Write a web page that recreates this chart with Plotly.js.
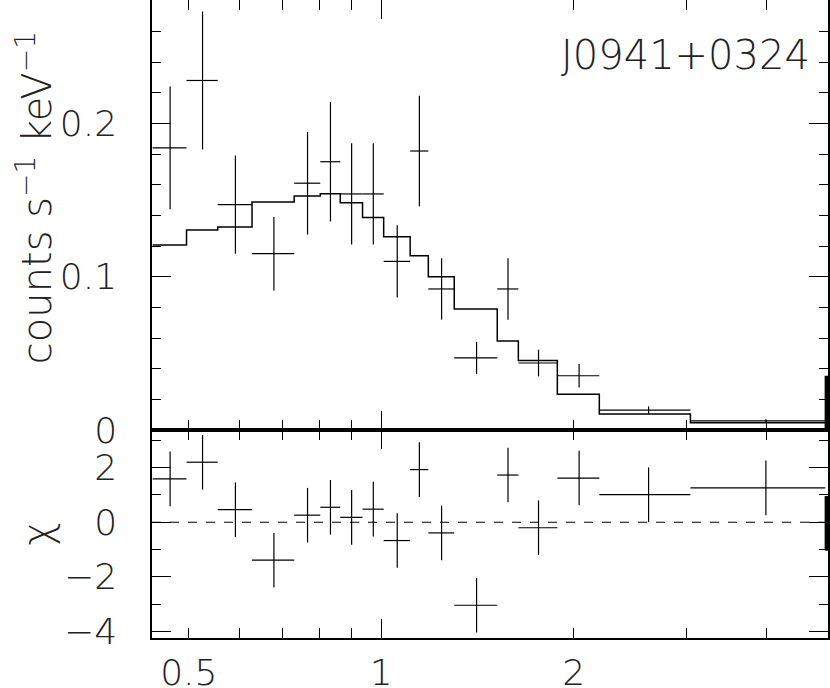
<!DOCTYPE html>
<html>
<head>
<meta charset="utf-8">
<script src="https://cdn.plot.ly/plotly-3.0.1.min.js"></script>
<style>
html, body { margin: 0; padding: 0; background: #fff; }
#plot { width: 830px; height: 688px; }
</style>
</head>
<body>
<div id="plot"></div>
<script>
// channel edges in keV
const binEdges = [0.439, 0.496, 0.555, 0.628, 0.731, 0.803, 0.863, 0.935, 1.009, 1.110,
                  1.185, 1.301, 1.519, 1.639, 1.886, 2.194, 3.046, 4.950];
// counts s^-1 keV^-1
const rate = [0.184, 0.228, 0.147, 0.115, 0.161, 0.175, 0.154, 0.154, 0.110,
              0.182, 0.092, 0.047, 0.092, 0.0437, 0.0354, 0.0130, 0.0059];
const rateErr = [0.040, 0.045, 0.032, 0.024, 0.0335, 0.039, 0.033, 0.033, 0.0235,
                 0.036, 0.020, 0.0105, 0.020, 0.0087, 0.0077, 0.0024, 0.0012];
const model = [0.1207, 0.1305, 0.1324, 0.1487, 0.1526, 0.1541, 0.1483, 0.1387, 0.1261,
               0.1137, 0.1000, 0.0789, 0.0581, 0.0454, 0.0233, 0.0104, 0.0048];
// residuals in sigma
const chi = [1.59, 2.20, 0.46, -1.39, 0.26, 0.55, 0.18, 0.48, -0.67,
             1.93, -0.39, -3.04, 1.73, -0.20, 1.62, 1.01, 1.26];

// last channel, sitting on the right frame
const edgeEnergy = [4.975];
const edgeRate = [0.004];
const edgeRateErr = [0.0314];
const edgeChi = [-0.04];

const xTickVals = [0.5, 1, 2];
const xTickText = ['0.5', '1', '2'];
const xMinorVals = [0.6, 0.7, 0.8, 0.9, 3, 4];
const xLongVals = [1];
const rateTicks = [0, 0.1, 0.2];
const rateTickText = ['0', '0.1', '0.2'];
const chiTicks = [-4, -2, 0, 2];
const chiTickText = ['\u22124', '\u22122', '0', '2'];

const xRange = [Math.log10(0.438), Math.log10(5.0)];

let centers = [];
let halfWidth = [];
for (let i = 0; i < binEdges.length - 1; i++) {
    centers.push((binEdges[i] + binEdges[i + 1]) / 2);
    halfWidth.push((binEdges[i + 1] - binEdges[i]) / 2);
}

const ink = '#000';
const labelFont = {family: 'DejaVu Sans, Liberation Sans, sans-serif', size: 36, color: '#222', weight: 200};
const titleFont = {family: 'DejaVu Sans, Liberation Sans, sans-serif', size: 40, color: '#222', weight: 200};
const hidden = {size: 1, color: 'rgba(0,0,0,0)'};

const dataTrace = {
    x: centers, y: rate, xaxis: 'x2', yaxis: 'y',
    type: 'scatter', mode: 'markers', marker: hidden,
    error_x: {type: 'data', array: halfWidth, width: 0, thickness: 1.2, color: ink},
    error_y: {type: 'data', array: rateErr, width: 0, thickness: 1.2, color: ink},
    hoverinfo: 'x+y'
};

const modelTrace = {
    x: binEdges, y: model.concat([model[model.length - 1]]), xaxis: 'x2', yaxis: 'y',
    type: 'scatter', mode: 'lines', line: {shape: 'hv', color: ink, width: 1.5},
    hoverinfo: 'skip'
};

const edgeTrace = {
    x: edgeEnergy, y: edgeRate, xaxis: 'x2', yaxis: 'y',
    type: 'scatter', mode: 'markers', marker: hidden,
    error_y: {type: 'data', array: edgeRateErr, width: 0, thickness: 4, color: ink},
    hoverinfo: 'skip'
};

const chiTrace = {
    x: centers, y: chi, xaxis: 'x', yaxis: 'y2',
    type: 'scatter', mode: 'markers', marker: hidden,
    error_x: {type: 'data', array: halfWidth, width: 0, thickness: 1.2, color: ink},
    error_y: {type: 'constant', value: 1, width: 0, thickness: 1.2, color: ink},
    hoverinfo: 'x+y'
};

const edgeChiTrace = {
    x: edgeEnergy, y: edgeChi, xaxis: 'x', yaxis: 'y2',
    type: 'scatter', mode: 'markers', marker: hidden,
    error_y: {type: 'constant', value: 1, width: 0, thickness: 4, color: ink},
    hoverinfo: 'skip'
};

// empty traces so the overlay axes (long tick at 1 keV) get drawn
const overlayBottom = {x: [], y: [], xaxis: 'x3', yaxis: 'y2', type: 'scatter', hoverinfo: 'skip'};
const overlayTop = {x: [], y: [], xaxis: 'x4', yaxis: 'y', type: 'scatter', hoverinfo: 'skip'};

const splitAt = 0.326;

function energyAxis(anchor, labels) {
    return {
        anchor: anchor, type: 'log', range: xRange, domain: [0, 1],
        tickvals: xTickVals, ticktext: xTickText, showticklabels: labels,
        ticks: 'inside', ticklen: 10, tickwidth: 1, tickcolor: ink,
        minor: {tickvals: xMinorVals, ticks: 'inside', ticklen: 10, tickwidth: 1, tickcolor: ink, showgrid: false},
        showline: true, linewidth: 1.5, linecolor: ink, mirror: 'ticks',
        showgrid: false, zeroline: false, tickfont: labelFont, ticklabelstandoff: 2,
        fixedrange: true
    };
}

function longTickAxis(overlay, anchor) {
    return {
        overlaying: overlay, anchor: anchor, type: 'log', range: xRange,
        tickvals: xLongVals, ticks: 'inside', ticklen: 19, tickwidth: 1, tickcolor: ink,
        showticklabels: false, showline: false, mirror: 'ticks',
        showgrid: false, zeroline: false, fixedrange: true
    };
}

const layout = {
    width: 830, height: 688,
    margin: {l: 152, r: 2, t: 0, b: 50},
    paper_bgcolor: '#fff', plot_bgcolor: '#fff',
    showlegend: false,
    xaxis: energyAxis('y2', true),
    xaxis2: energyAxis('y', false),
    xaxis3: longTickAxis('x', 'y2'),
    xaxis4: longTickAxis('x2', 'y'),
    yaxis: {
        anchor: 'x2', domain: [splitAt, 1], range: [0, 0.2805],
        tickvals: rateTicks, ticktext: rateTickText,
        ticks: 'inside', ticklen: 19, tickwidth: 1, tickcolor: ink,
        minor: {dtick: 0.02, tick0: 0, ticks: 'inside', ticklen: 9, tickwidth: 1, tickcolor: ink, showgrid: false},
        showline: true, linewidth: 1.5, linecolor: ink, mirror: 'ticks',
        showgrid: false, zeroline: false, tickfont: labelFont, ticklabelstandoff: 26,
        fixedrange: true
    },
    yaxis2: {
        anchor: 'x', domain: [0, splitAt], range: [-4.24, 3.38],
        tickvals: chiTicks, ticktext: chiTickText,
        ticks: 'inside', ticklen: 19, tickwidth: 1, tickcolor: ink,
        minor: {dtick: 1, tick0: 0, ticks: 'inside', ticklen: 9, tickwidth: 1, tickcolor: ink, showgrid: false},
        showline: true, linewidth: 1.5, linecolor: ink, mirror: 'ticks',
        showgrid: false, zeroline: false, tickfont: labelFont, ticklabelstandoff: 26,
        title: {text: '\u03c7', font: titleFont, standoff: 0},
        fixedrange: true
    },
    shapes: [{
        type: 'line', xref: 'x domain', x0: 0, x1: 1, yref: 'y2', y0: 0, y1: 0,
        line: {color: ink, width: 1.2, dash: '9px,9px'}
    }],
    annotations: [{
        // y title of the upper panel, placed by hand like the original
        text: 'counts s<sup>\u22121</sup> keV<sup>\u22121</sup>', showarrow: false,
        textangle: -90, xref: 'paper', yref: 'paper', x: -0.174, y: 0.69,
        xanchor: 'center', yanchor: 'middle', font: titleFont
    }, {
        text: 'J0941+0324', showarrow: false,
        xref: 'x2 domain', yref: 'y domain', x: 0.976, y: 0.872,
        xanchor: 'right', yanchor: 'middle',
        font: titleFont
    }]
};

const config = {displayModeBar: false};

Plotly.newPlot('plot',
    [modelTrace, dataTrace, edgeTrace, chiTrace, edgeChiTrace, overlayBottom, overlayTop],
    layout, config);
</script>
</body>
</html>
